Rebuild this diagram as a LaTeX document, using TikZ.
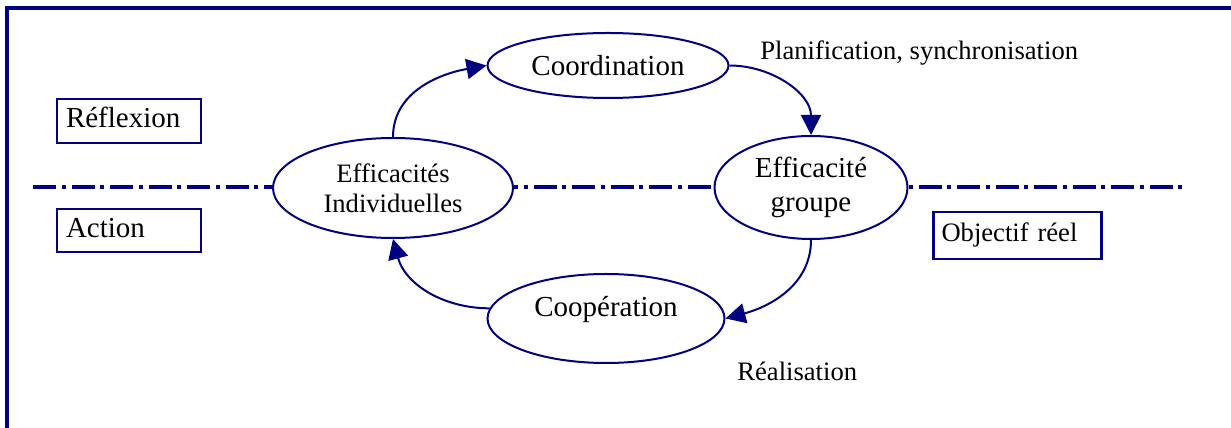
\documentclass[tikz,border=0pt]{standalone}
\usepackage{fontspec}
\setmainfont{Liberation Serif}
\usepackage{tikz}
\usetikzlibrary{arrows.meta,shapes.geometric}
\definecolor{marine}{RGB}{0,0,128}
\newcommand{\textegrand}{\fontsize{14.5}{17}\selectfont}
\newcommand{\textepetit}{\fontsize{13.3}{15}\selectfont}
\tikzset{
  etat/.style={ellipse,draw=marine,line width=1pt,fill=white,inner sep=0pt,align=center},
  niveau/.style={draw=marine,line width=1.4pt,inner xsep=4.5pt,inner ysep=0pt,align=left,text height=10pt,text depth=3pt},
  fleche/.style={-{Triangle[length=10pt,width=10pt]},draw=marine,line width=1pt},
}

\begin{document}
\begin{tikzpicture}[x=0.5pt,y=0.5pt]
\useasboundingbox (0,0) rectangle (1231,428);
\clip (0,0) rectangle (1231,428);
\draw [marine,line width=2pt] (6.7,-10) -- (6.7,420) -- (1240,420);
\draw [marine,line width=2.25pt,dash pattern=on 11.5pt off 2.75pt on 2pt off 3pt] (33,241) -- (1187,241);

\node [niveau,text width=63pt,minimum height=22pt,font=\textegrand] (reflexion) at (129,307) {Réflexion};
\node [niveau,text width=63pt,minimum height=21.5pt,font=\textegrand] (action) at (129,197.5) {Action};
\node [niveau,text width=76pt,minimum height=23.5pt,inner xsep=4pt,text height=9.3pt,text depth=2.9pt,font=\textepetit] (objectif) at (1017.5,192.5) {Objectif réel};

\node [etat,minimum width=120pt,minimum height=50pt,font=\textepetit] (indiv) at (393,240) {Efficacités\\Individuelles};
\node [etat,minimum width=120.5pt,minimum height=32.5pt,font=\textegrand] (coord) at (608,362.5) {Coordination};
\node [etat,minimum width=96.5pt,minimum height=51.5pt,font=\textegrand] (groupe) at (811,240.5) {Efficacité\\groupe};
\node [etat,minimum width=118.5pt,minimum height=44.5pt,text height=10pt,text depth=11.5pt,font=\textegrand] (coop) at (606,109.5) {Coopération};

\node [anchor=base west,inner sep=0pt,font=\textepetit] (planif) at (760,368) {Planification, synchronisation};
\node [anchor=base west,inner sep=0pt,font=\textepetit] (realisation) at (737,47) {Réalisation};

\draw [fleche] (indiv.north) to[out=90,in=190] (coord.west);
\draw [fleche] (coord.east) to[out=0,in=90] (groupe.north);
\draw [fleche] (groupe.south) to[out=-90,in=15] (coop.east);
\draw [fleche] (coop.175) to[out=180,in=-75] (indiv.south);

\end{tikzpicture}
\end{document}
